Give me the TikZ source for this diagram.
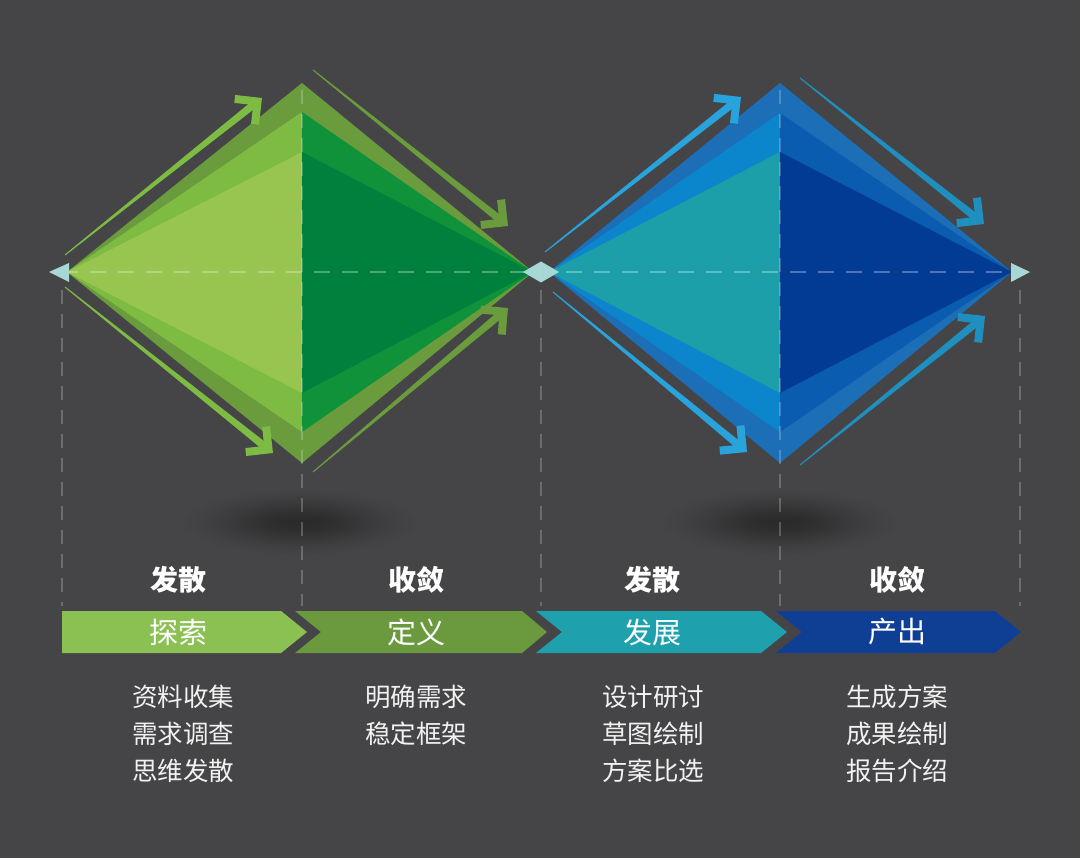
\documentclass[tikz,border=0pt]{standalone}
\usepackage{fontspec}
\newfontfamily\cjk{Noto Sans CJK SC}
\usetikzlibrary{calc}
\definecolor{bg}{HTML}{454547}
\definecolor{shad}{HTML}{2A2A2B}
\definecolor{gOut}{HTML}{6A9B3D}
\definecolor{gLmid}{HTML}{7DBB42}
\definecolor{gLin}{HTML}{97C54F}
\definecolor{gRmid}{HTML}{0F9239}
\definecolor{gRin}{HTML}{00803D}
\definecolor{bOut}{HTML}{1C6EB6}
\definecolor{bLmid}{HTML}{0B86CC}
\definecolor{bLin}{HTML}{1D9FA9}
\definecolor{bRmid}{HTML}{0A5CB0}
\definecolor{bRin}{HTML}{023B93}
\definecolor{bArrL}{HTML}{29A3DC}
\definecolor{bArrR}{HTML}{1F8FC0}
\definecolor{markcol}{HTML}{A8D8D6}
\definecolor{cA}{HTML}{8BC153}
\definecolor{cB}{HTML}{6B9A3E}
\definecolor{cC}{HTML}{1FA0AD}
\definecolor{cD}{HTML}{0E3F94}
\definecolor{txt}{HTML}{F2F2F2}
\pgfdeclareradialshading{softshadow}{\pgfpoint{0bp}{0bp}}{%
  color(0bp)=(shad); color(4bp)=(shad!92!bg); color(9bp)=(shad!70!bg);
  color(14bp)=(shad!42!bg); color(19bp)=(shad!18!bg); color(25bp)=(bg); color(50bp)=(bg)}
% #1 tail, #2 tip, #3 colour
\newcommand\fatarrow[3]{%
  \fill[#3] ($(#1)!0.5pt!90:(#2)$) -- ($(#2)!9pt!(#1)!3.8pt!-90:(#1)$)
    -- ($(#2)!9pt!(#1)!3.8pt!90:(#1)$) -- ($(#1)!0.5pt!-90:(#2)$) -- cycle;
  \fill[#3] (#2) -- ($(#2)!27pt!45:(#1)$) -- ($(#2)!28.1pt!28.5:(#1)$)
    -- ($(#2)!11.3pt!(#1)$) -- ($(#2)!28.1pt!-28.5:(#1)$)
    -- ($(#2)!27pt!-45:(#1)$) -- cycle;}
\tikzset{
  titletext/.style={text=white, font=\cjk\bfseries\fontsize{28}{32}\selectfont, inner sep=0pt},
  bartext/.style={text=white, font=\cjk\fontsize{29}{33}\selectfont, inner sep=0pt},
  listtext/.style={text=txt, font=\cjk\fontsize{25.5}{30}\selectfont, inner sep=0pt},
  hdash/.style={white, opacity=0.3, line width=1.5pt, dash pattern=on 16pt off 12pt},
  vdash/.style={white, opacity=0.22, line width=1.2pt, dash pattern=on 14pt off 10pt},
}
\begin{document}
\begin{tikzpicture}[x=1pt,y=-1pt]
\fill[bg] (0,0) rectangle (1080,858);
\useasboundingbox (0,0) rectangle (1080,858);

% shadows
\shade[shading=softshadow] (300,522) ellipse [x radius=120, y radius=34];
\shade[shading=softshadow] (780,522) ellipse [x radius=120, y radius=34];

% green diamond coordinates
\coordinate (gL) at (67,272);
\coordinate (gT) at (302,83);
\coordinate (gB) at (302,463);
\coordinate (gR) at (533,272);
\coordinate (gT1) at (302,112);
\coordinate (gB1) at (302,432);
\coordinate (gT2) at (302,152);
\coordinate (gB2) at (302,393);
% blue diamond coordinates
\coordinate (bL) at (549,272);
\coordinate (bT) at (780,83);
\coordinate (bB) at (780,463);
\coordinate (bR) at (1012,272);
\coordinate (bT1) at (780,113);
\coordinate (bB1) at (780,432);
\coordinate (bT2) at (780,152);
\coordinate (bB2) at (780,393);

% green diamond layers
\fill[gOut] (gL) -- (gT) -- (gR) -- (gB) -- cycle;
\fill[gLmid] (gL) -- (gT1) -- (gB1) -- cycle;
\fill[gLin] (gL) -- (gT2) -- (gB2) -- cycle;
\fill[gRmid] (gR) -- (gT1) -- (gB1) -- cycle;
\fill[gRin] (gR) -- (gT2) -- (gB2) -- cycle;
% blue diamond layers
\fill[bOut] (bL) -- (bT) -- (bR) -- (bB) -- cycle;
\fill[bLmid] (bL) -- (bT1) -- (bB1) -- cycle;
\fill[bLin] (bL) -- (bT2) -- (bB2) -- cycle;
\fill[bRmid] (bR) -- (bT1) -- (bB1) -- cycle;
\fill[bRin] (bR) -- (bT2) -- (bB2) -- cycle;

% green arrows
\coordinate (ga1s) at (65,255);  \coordinate (ga1e) at (262,98);
\coordinate (ga2s) at (313,70);  \coordinate (ga2e) at (508,226);
\coordinate (ga3s) at (65,287);  \coordinate (ga3e) at (273,453);
\coordinate (ga4s) at (313,472); \coordinate (ga4e) at (508,308);
\fatarrow{ga1s}{ga1e}{gLmid}
\fatarrow{ga2s}{ga2e}{gOut}
\fatarrow{ga3s}{ga3e}{gLmid}
\fatarrow{ga4s}{ga4e}{gOut}
% blue arrows
\coordinate (ba1s) at (545,252); \coordinate (ba1e) at (741,97);
\coordinate (ba2s) at (800,78);  \coordinate (ba2e) at (984,224);
\coordinate (ba3s) at (553,292); \coordinate (ba3e) at (747,452);
\coordinate (ba4s) at (800,465); \coordinate (ba4e) at (985,316);
\fatarrow{ba1s}{ba1e}{bArrL}
\fatarrow{ba2s}{ba2e}{bArrR}
\fatarrow{ba3s}{ba3e}{bArrL}
\fatarrow{ba4s}{ba4e}{bArrR}

% dashed guides
\coordinate (hA) at (62,272);
\coordinate (hB) at (1020,272);
\draw[hdash] (hA) -- (hB);
\foreach \x in {62,541,1020} { \draw[vdash] (\x,290) -- (\x,606); }
\foreach \x in {302,780} { \draw[vdash] (\x,90) -- (\x,606); }

% markers
\fill[markcol] (49,272) -- (69,263) -- (69,282) -- cycle;
\fill[markcol] (523,272) -- (541,261.5) -- (559,272) -- (541,282.5) -- cycle;
\fill[markcol] (1011,263) -- (1030,272) -- (1011,282) -- cycle;

% chevron bar
\fill[cA] (62,611) -- (281,611) -- (307,632) -- (281,653) -- (62,653) -- cycle;
\fill[cB] (295,611) -- (522,611) -- (547,632) -- (522,653) -- (295,653) -- (321,632) -- cycle;
\fill[cC] (536,611) -- (761,611) -- (787,632) -- (761,653) -- (536,653) -- (562,632) -- cycle;
\fill[cD] (776,611) -- (995,611) -- (1021,632) -- (995,653) -- (776,653) -- (802,632) -- cycle;

% titles
\node[titletext] (t1) at (178,580) {发散};
\node[titletext] (t2) at (416,580) {收敛};
\node[titletext] (t3) at (652,580) {发散};
\node[titletext] (t4) at (897,580) {收敛};
% bar labels
\node[bartext] (c1) at (178,632) {探索};
\node[bartext] (c2) at (416,632) {定义};
\node[bartext] (c3) at (652,632) {发展};
\node[bartext] (c4) at (897,632) {产出};
% lists
\node[listtext] (l11) at (183,697) {资料收集};
\node[listtext] (l12) at (183,734) {需求调查};
\node[listtext] (l13) at (183,771) {思维发散};
\node[listtext] (l21) at (416,697) {明确需求};
\node[listtext] (l22) at (416,734) {稳定框架};
\node[listtext] (l31) at (653,697) {设计研讨};
\node[listtext] (l32) at (653,734) {草图绘制};
\node[listtext] (l33) at (653,771) {方案比选};
\node[listtext] (l41) at (897,697) {生成方案};
\node[listtext] (l42) at (897,734) {成果绘制};
\node[listtext] (l43) at (897,771) {报告介绍};
\end{tikzpicture}
\end{document}
